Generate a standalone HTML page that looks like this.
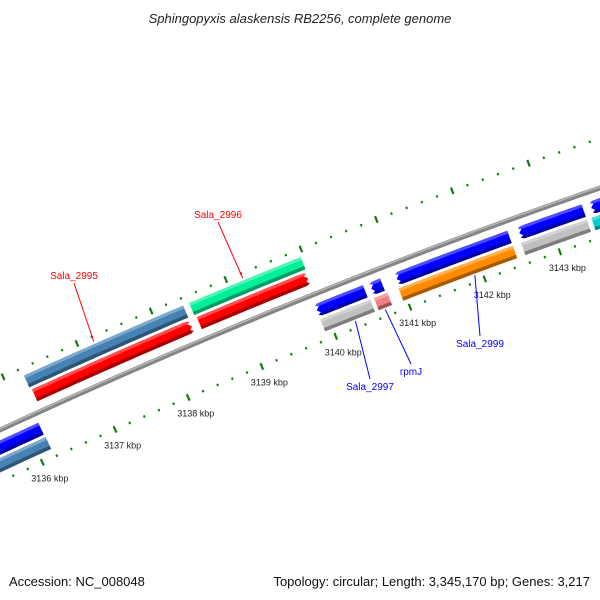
<!DOCTYPE html>
<html><head><meta charset="utf-8"><style>
body{margin:0;background:#fff}
svg{display:block;font-family:"Liberation Sans","DejaVu Sans",sans-serif}
</style></head><body>
<svg id="map" width="600" height="600" viewBox="0 0 600 600">
<text x="300" y="23" text-anchor="middle" font-size="13" font-style="italic" fill="#222">Sphingopyxis alaskensis RB2256, complete genome</text>
<g id="ticks"></g>
<g id="bb"></g>
<g id="genes"></g>
<g id="labels"></g>
<text x="9" y="586" font-size="13" fill="#111">Accession: NC_008048</text>
<text x="590" y="586" font-size="13" fill="#111" text-anchor="end">Topology: circular; Length: 3,345,170 bp; Genes: 3,217</text>
</svg>
<script>
// gene data (kbp)
const geneStarts=[3135.4,3135.4,3136.24,3136.26,3138.47,3138.49,3139.9,3140.63,3140.97,3142.6,3143.55,3139.9,3140.62,3140.95,3142.58,3143.51];
const geneEnds=[3136.16,3136.17,3138.39,3138.39,3139.96,3139.95,3140.55,3140.78,3142.47,3143.45,3144.4,3140.57,3140.8,3142.47,3143.45,3144.4];
const geneRows=[1,2,-2,-1,-2,-1,1,1,1,1,1,2,2,2,2,2];
const geneColors=["#0000ff","#4682b4","#4682b4","#ff0000","#00f09a","#ff0000","#0000ff","#0000ff","#0000ff","#0000ff","#0000ff","#c0c0c0","#f08080","#ff8c00","#c0c0c0","#00ced1"];
const geneArrows=[0,0,0,1,0,1,1,1,1,1,1,0,0,0,0,0];
const tickLabels=[3136,3137,3138,3139,3140,3141,3142,3143];
const labelNames=["Sala_2995","Sala_2996","Sala_2997","rpmJ","Sala_2999"];
const labelKbp=[3137.2,3139.2,3140.3,3140.7,3141.9];
const labelRows=[-2,-2,2,2,2];

const NS="http://www.w3.org/2000/svg";
function yB(x){return 430-0.4633*x+0.0001*x*x;}
function xOf(p){const d=p-3137;return 96+73.5*d+0.2*d*d;}
function P(p,o){const x=xOf(p);const s=-0.4633+0.0002*x;const n=Math.sqrt(1+s*s);return [x+o*(-s)/n,yB(x)+o/n];}
function mk(tag,attrs,parent){const e=document.createElementNS(NS,tag);for(const k in attrs)e.setAttribute(k,attrs[k]);parent.appendChild(e);return e;}
const rowOff={"-2":-33,"-1":-17,"1":16,"2":32};
const H=13;

// backbone
const bb=document.getElementById('bb');
let pts=[],pts2=[];
for(let p=3134.5;p<=3145;p+=0.1){pts.push(P(p,0).join(','));pts2.push(P(p,-1.2).join(','));}
const bl=mk('polyline',{points:pts.join(' '),fill:'none',stroke:'#858585','stroke-width':5},bb);


const bh=mk('polyline',{points:pts2.join(' '),fill:'none',stroke:'#b8b8b8','stroke-width':1.5},bb);



// ticks
const tg=document.getElementById('ticks');
for(let i=0;i<=50;i++){
  const p=3135.2+i*0.2;const major=Math.abs(p-Math.round(p))<0.01;
  [47,-47].forEach(o=>{
    const L=major?3.5:1.2;const a=P(p,o-L),b=P(p,o+L);
    const t=mk('line',{x1:a[0],y1:a[1],x2:b[0],y2:b[1],stroke:'#137a13','stroke-width':major?2.2:2},tg);
    
    
  });
}
tickLabels.forEach(k=>{
  const a=P(k,47);
  const t=mk('text',{x:a[0]-11,y:a[1]+19,'font-size':9,fill:'#222'},tg);
  t.textContent=k+' kbp';
  
  
});

// genes
function shade(c,f){const n=parseInt(c.slice(1),16);let r=n>>16,g=(n>>8)&255,b=n&255;
  if(f>0){r+= (255-r)*f;g+=(255-g)*f;b+=(255-b)*f;}else{r*=1+f;g*=1+f;b*=1+f;}
  return 'rgb('+Math.round(r)+','+Math.round(g)+','+Math.round(b)+')';}
const gg=document.getElementById('genes');
function band(s,e,o1,o2,tip,dir){
  // polygon from s to e between offsets o1..o2, tip: arrow length in kbp
  const top=[],bot=[];const st=(e-s)/20;
  let a=s,b=e;if(tip){if(dir>0)b=e-tip;else a=s+tip;}
  for(let i=0;i<=20;i++){const p=a+(b-a)*i/20;top.push(P(p,o1));bot.push(P(p,o2));}
  let poly=top.slice();
  if(tip&&dir>0){poly.push(P(e,(o1+o2)/2));}
  poly=poly.concat(bot.reverse());
  if(tip&&dir<0){poly.push(P(s,(o1+o2)/2));}
  return poly.map(q=>q[0].toFixed(1)+','+q[1].toFixed(1)).join(' ');
}
for(let i=0;i<geneStarts.length;i++){
  const o=rowOff[geneRows[i]],s=geneStarts[i],e=geneEnds[i],c=geneColors[i];
  const dir=geneRows[i]<0?1:-1;const tip=geneArrows[i]?Math.min(0.08,(e-s)/2):0;
  const g=mk('g',{},gg);
  
  
  mk('polygon',{points:band(s,e,o-H/2,o+H/2,tip,dir),fill:c},g);
  mk('polygon',{points:band(s,e,o-H/2,o-H/2+3,tip?tip*0.5:0,dir),fill:shade(c,0.3)},g);
  mk('polygon',{points:band(s,e,o+H/2-3.5,o+H/2,tip?tip*0.5:0,dir),fill:shade(c,-0.35)},g);
}

// labels
const lg=document.getElementById('labels');
const lblPos=[[74,279],[218,218],[370,390],[411,375],[480,347]];
for(let i=0;i<labelNames.length;i++){
  const fwd=labelRows[i]<0;const col=fwd?'#ff0000':'#0000ff';
  const a=P(labelKbp[i],fwd?-42:40);const L=lblPos[i];
  const ln=mk('line',{x1:a[0],y1:a[1],x2:L[0],y2:fwd?L[1]+4:L[1]-11,stroke:col,'stroke-width':1},lg);
  
  
  const t=mk('text',{x:L[0],y:L[1],'font-size':10,fill:col,'text-anchor':'middle'},lg);
  t.textContent=labelNames[i];
  
  
}
</script>
</body></html>
